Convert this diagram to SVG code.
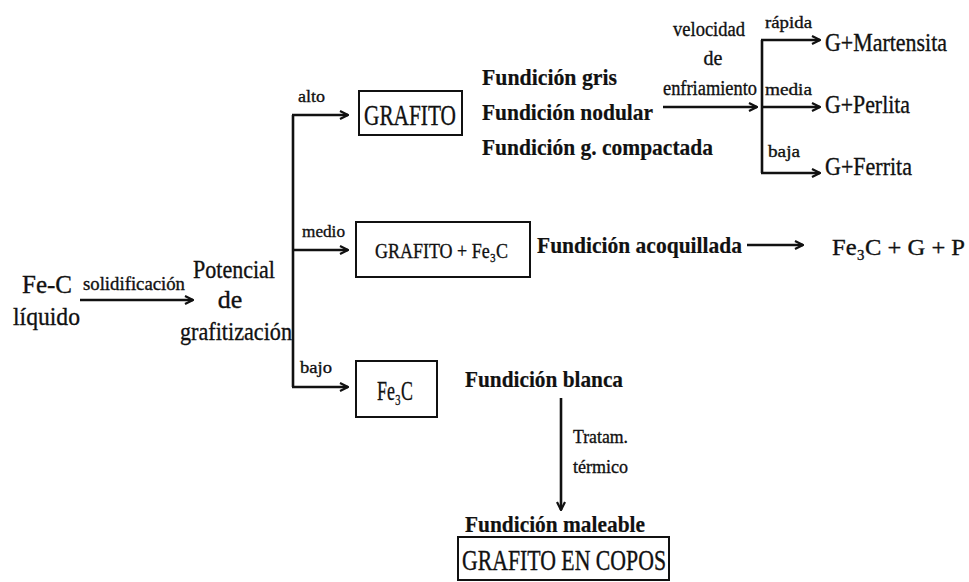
<svg xmlns="http://www.w3.org/2000/svg" width="969" height="582" viewBox="0 0 969 582">
<style>
text{font-family:'Liberation Serif','DejaVu Serif',serif;fill:#111;stroke:#111;stroke-width:0.35}
.b{font-weight:bold;stroke-width:0.2}
.ln{stroke:#111;stroke-width:2.6;fill:none}
.box{stroke:#111;stroke-width:2;fill:#fff}
</style>
<defs>
<marker id="ah" viewBox="0 0 10 10" refX="9" refY="5" markerWidth="10" markerHeight="10" markerUnits="userSpaceOnUse" orient="auto">
<path d="M1,1 L9,5 L1,9" stroke="#111" stroke-width="2.2" fill="none"/>
</marker>
</defs>
<rect width="969" height="582" fill="#fff"/>
<g id="connectors">
<line class="ln" x1="80" y1="300" x2="193" y2="300" marker-end="url(#ah)"/>
<line class="ln" x1="293" y1="115" x2="293" y2="387"/>
<line class="ln" x1="292" y1="115" x2="348" y2="115" marker-end="url(#ah)"/>
<line class="ln" x1="292" y1="250" x2="348" y2="250" marker-end="url(#ah)"/>
<line class="ln" x1="292" y1="387" x2="348" y2="387" marker-end="url(#ah)"/>
<line class="ln" x1="663" y1="107" x2="757" y2="107" marker-end="url(#ah)"/>
<line class="ln" x1="762" y1="40" x2="762" y2="173"/>
<line class="ln" x1="761" y1="40" x2="820" y2="40" marker-end="url(#ah)"/>
<line class="ln" x1="761" y1="107" x2="820" y2="107" marker-end="url(#ah)"/>
<line class="ln" x1="761" y1="173" x2="820" y2="173" marker-end="url(#ah)"/>
<line class="ln" x1="747" y1="245" x2="803" y2="245" marker-end="url(#ah)"/>
<line class="ln" x1="561" y1="398" x2="561" y2="510" marker-end="url(#ah)"/>
<text x="83" y="290" font-size="18" textLength="102" lengthAdjust="spacingAndGlyphs">solidificación</text>
<text x="298" y="102" font-size="17" textLength="27" lengthAdjust="spacingAndGlyphs">alto</text>
<text x="302" y="237" font-size="17" textLength="43" lengthAdjust="spacingAndGlyphs">medio</text>
<text x="300" y="373" font-size="17" textLength="32" lengthAdjust="spacingAndGlyphs">bajo</text>
<text x="673" y="36" font-size="20" textLength="72" lengthAdjust="spacingAndGlyphs">velocidad</text>
<text x="713" y="65" font-size="20" text-anchor="middle">de</text>
<text x="663" y="95" font-size="20" textLength="94" lengthAdjust="spacingAndGlyphs">enfriamiento</text>
<text x="765" y="28" font-size="17" textLength="47" lengthAdjust="spacingAndGlyphs">rápida</text>
<text x="765" y="95" font-size="17" textLength="47" lengthAdjust="spacingAndGlyphs">media</text>
<text x="768" y="157" font-size="17" textLength="32" lengthAdjust="spacingAndGlyphs">baja</text>
<text x="573" y="443" font-size="19" textLength="55" lengthAdjust="spacingAndGlyphs">Tratam.</text>
<text x="573" y="473" font-size="19" textLength="55" lengthAdjust="spacingAndGlyphs">térmico</text>
</g>
<g id="fec">
<text x="22" y="293" font-size="26" textLength="50" lengthAdjust="spacingAndGlyphs">Fe-C</text>
<text x="13" y="325" font-size="26" textLength="67" lengthAdjust="spacingAndGlyphs">líquido</text>
</g>
<g id="potencial">
<text x="193" y="278" font-size="26" textLength="82" lengthAdjust="spacingAndGlyphs">Potencial</text>
<text x="230" y="308" font-size="26" text-anchor="middle">de</text>
<text x="180" y="340" font-size="26" textLength="112" lengthAdjust="spacingAndGlyphs">grafitización</text>
</g>
<g id="grafito">
<rect class="box" x="359" y="91" width="103" height="44"/>
<text x="364" y="125" font-size="30" textLength="92" lengthAdjust="spacingAndGlyphs">GRAFITO</text>
</g>
<g id="fundiciones">
<text class="b" x="482" y="85" font-size="24" textLength="135" lengthAdjust="spacingAndGlyphs">Fundición gris</text>
<text class="b" x="482" y="120" font-size="24" textLength="171" lengthAdjust="spacingAndGlyphs">Fundición nodular</text>
<text class="b" x="482" y="155" font-size="24" textLength="231" lengthAdjust="spacingAndGlyphs">Fundición g. compactada</text>
</g>
<g id="martensita"><text x="825" y="51" font-size="26" textLength="122" lengthAdjust="spacingAndGlyphs">G+Martensita</text></g>
<g id="perlita"><text x="825" y="113" font-size="26" textLength="85" lengthAdjust="spacingAndGlyphs">G+Perlita</text></g>
<g id="ferrita"><text x="825" y="175" font-size="26" textLength="87" lengthAdjust="spacingAndGlyphs">G+Ferrita</text></g>
<g id="grafito-fe3c">
<rect class="box" x="356" y="222" width="174" height="55"/>
<text x="375" y="258" font-size="21" textLength="133" lengthAdjust="spacingAndGlyphs">GRAFITO + Fe₃C</text>
</g>
<g id="acoquillada"><text class="b" x="537" y="253" font-size="24" textLength="205" lengthAdjust="spacingAndGlyphs">Fundición acoquillada</text></g>
<g id="fe3c-g-p"><text x="832" y="255" font-size="24" textLength="133" lengthAdjust="spacingAndGlyphs">Fe₃C + G + P</text></g>
<g id="fe3c">
<rect class="box" x="356" y="361" width="81" height="56"/>
<text x="377" y="400" font-size="27" textLength="36" lengthAdjust="spacingAndGlyphs">Fe₃C</text>
</g>
<g id="blanca"><text class="b" x="465" y="387" font-size="24" textLength="158" lengthAdjust="spacingAndGlyphs">Fundición blanca</text></g>
<g id="maleable">
<text class="b" x="465" y="532" font-size="24" textLength="180" lengthAdjust="spacingAndGlyphs">Fundición maleable</text>
<rect class="box" x="458" y="537" width="211" height="43"/>
<text x="462" y="570" font-size="29" textLength="204" lengthAdjust="spacingAndGlyphs">GRAFITO EN COPOS</text>
</g>
</svg>
